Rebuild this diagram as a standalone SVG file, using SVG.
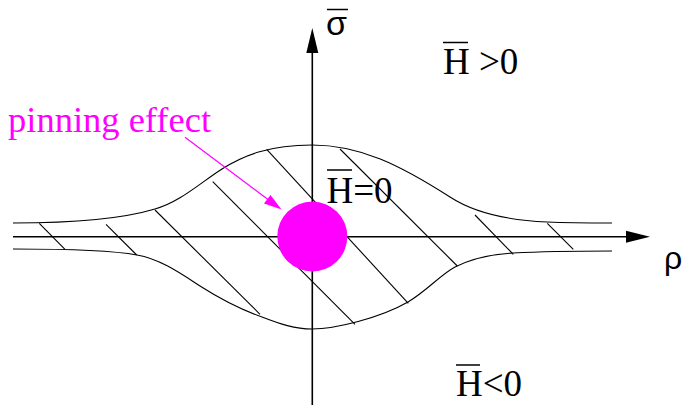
<svg xmlns="http://www.w3.org/2000/svg" width="683" height="405" viewBox="0 0 683 405">
<style>
.c{fill:none;stroke:#000;stroke-width:1.1}
.h{stroke:#000;stroke-width:1.1}
.ax{stroke:#000;stroke-width:1.6}
.ol{stroke:#000;stroke-width:1.5}
.t{font-family:"Liberation Serif","Times New Roman",serif;font-size:37px;fill:#000}
.g{font-family:"Liberation Sans",Arial,sans-serif;fill:#000}
.m{fill:#ff00ff}
</style>
<rect width="683" height="405" fill="#fff"/>
<g id="band">
<path class="c" d="M13,223 C80,223 125,218 155,209 C180,202 200,183 222,169 C244,155 270,145 312,145 C360,145 400,165 450,197 C470,210 500,220 547,222 C570,223 590,223 612,223"/>
<path class="c" d="M13,249 C70,249 110,250 137,255 C160,259 180,273 200,286 C225,302 245,311 262,317 C280,324 295,329 312,329 C335,329 380,318 408,302 C428,290 440,275 455,267 C475,257 495,254 513,253 C550,251 590,251 612,251"/>
</g>
<g id="hatch">
<line class="h" x1="39.3" y1="223.3" x2="65" y2="249.3"/>
<line class="h" x1="106" y1="224.3" x2="136.7" y2="255"/>
<line class="h" x1="155" y1="210" x2="260" y2="314.3"/>
<line class="h" x1="212.7" y1="181.7" x2="355" y2="324.3"/>
<line class="h" x1="266.7" y1="149.3" x2="408.3" y2="303.3"/>
<line class="h" x1="340" y1="149" x2="457.3" y2="266"/>
<line class="h" x1="475" y1="215" x2="513.3" y2="254.3"/>
<line class="h" x1="547.3" y1="223.3" x2="573.3" y2="249.3"/>
</g>
<g id="axes">
<line class="ax" x1="13" y1="236.7" x2="628" y2="236.7"/>
<polygon points="650,236.7 626,230.7 626,242.7" fill="#000"/>
<line class="ax" x1="312.3" y1="405" x2="312.3" y2="51"/>
<polygon points="312.3,28 306.3,53 318.3,53" fill="#000"/>
</g>
<g id="pin">
<circle class="m" cx="312.3" cy="236.5" r="35"/>
<line x1="185" y1="137.3" x2="270" y2="201" stroke="#ff00ff" stroke-width="1.2"/>
<polygon class="m" points="281.5,209.5 264,203.5 270.5,195"/>
<text x="8" y="132.3" style="font-family:'Liberation Serif','Times New Roman',serif;font-size:36.5px;fill:#ff00ff">pinning effect</text>
</g>
<g id="labels">
<text class="g" x="326" y="35" style="font-size:34px">σ</text>
<line class="ol" x1="327" y1="9.5" x2="348" y2="9.5"/>
<text class="g" x="664" y="269" style="font-size:32px">ρ</text>
<text class="t" x="443" y="74">H &gt;0</text>
<line class="ol" x1="443" y1="42.5" x2="468" y2="42.5"/>
<text class="t" x="326.5" y="202.7">H=0</text>
<line class="ol" x1="327" y1="170" x2="352" y2="170"/>
<text class="t" x="456" y="396">H&lt;0</text>
<line class="ol" x1="456" y1="365" x2="480" y2="365"/>
</g>
</svg>
